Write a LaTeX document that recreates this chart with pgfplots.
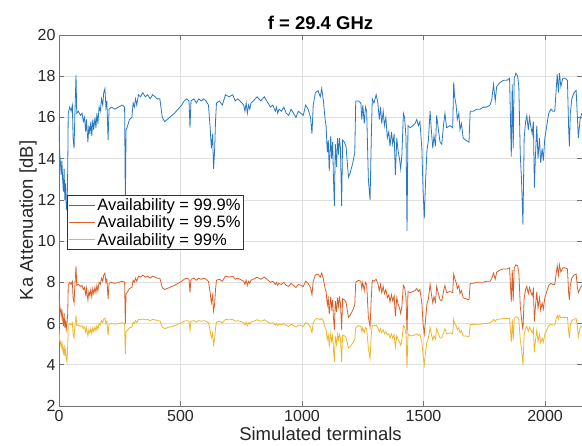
\documentclass[border=0pt]{standalone}
\usepackage{pgfplots}
\usepackage{pgfplotstable}
\pgfplotsset{compat=1.18}
\usepackage{fontspec}
\setmainfont{Liberation Sans}
\definecolor{mblue}{RGB}{40,120,195}
\definecolor{morange}{RGB}{217,95,40}
\definecolor{myellow}{RGB}{237,182,45}
\definecolor{axgray}{RGB}{38,38,38}

\pgfplotstableread{
x b o y
0 15.6 7.55 5.69
3 14.2 6.85 5.20
6 13.8 6.65 5.06
9 13.2 6.35 4.85
12 13.9 6.70 5.09
15 13.0 6.25 4.78
18 12.4 5.88 4.57
21 13.5 6.50 4.95
24 12.0 5.80 4.43
27 12.8 6.15 4.71
30 11.6 5.72 4.29
33 11.5 6.00 4.15
36 13.5 6.50 4.95
38 16.2 7.85 5.90
44 16.5 8.00 6.00
50 16.3 7.90 5.93
55 16.6 8.05 6.04
58 15.0 7.25 5.48
62 14.5 7.00 5.30
65 16.0 7.75 5.83
70 18.06 8.78 6.39
73 16.2 7.85 5.90
80 16.3 7.90 5.93
88 16.1 7.80 5.86
95 16.2 7.85 5.90
100 15.8 7.65 5.76
105 16.0 7.75 5.83
110 15.3 7.40 5.58
113 15.9 7.70 5.79
119 14.8 7.15 5.41
123 15.6 7.55 5.69
127 15.2 7.35 5.55
131 15.8 7.65 5.76
135 15.1 7.30 5.51
139 15.9 7.70 5.79
143 15.4 7.45 5.62
148 16.0 7.75 5.83
152 15.5 7.50 5.65
156 16.2 7.85 5.90
160 15.7 7.60 5.72
165 16.5 8.00 6.00
170 16.3 7.90 5.93
175 16.9 8.20 6.14
180 16.6 8.05 6.04
184 17.2 8.35 6.22
189 17.4 8.45 6.26
193 16.5 8.00 6.00
197 16.8 8.15 6.11
202 14.9 7.20 5.44
206 16.4 7.95 5.97
215 16.5 8.00 6.00
230 16.4 7.95 5.97
245 16.5 8.00 6.00
260 16.6 8.05 6.04
270 16.5 8.00 6.00
273 11.8 6.00 4.50
276 15.4 7.45 5.62
280 15.5 7.50 5.65
290 15.9 7.70 5.79
300 16.0 7.75 5.83
305 16.7 8.10 6.07
310 16.5 8.00 6.00
315 16.9 8.20 6.14
320 16.6 8.05 6.04
327 17.1 8.30 6.20
335 17.0 8.25 6.18
345 17.2 8.35 6.22
355 17.0 8.25 6.18
365 17.1 8.30 6.20
375 16.9 8.20 6.14
385 17.1 8.30 6.20
395 17.0 8.25 6.18
405 16.9 8.20 6.14
415 16.9 8.20 6.14
425 16.0 7.75 5.83
435 15.8 7.65 5.76
445 15.9 7.70 5.79
455 16.0 7.75 5.83
465 16.1 7.80 5.86
475 16.2 7.85 5.90
490 16.4 7.95 5.97
505 16.6 8.05 6.04
515 16.8 8.15 6.11
525 16.9 8.20 6.14
535 16.8 8.15 6.11
539 15.5 7.50 5.65
543 16.8 8.15 6.11
555 16.9 8.20 6.14
565 16.7 8.10 6.07
575 16.9 8.20 6.14
585 16.8 8.15 6.11
595 16.9 8.20 6.14
605 16.8 8.15 6.11
615 16.6 8.05 6.04
622 15.5 7.50 5.65
627 14.5 7.00 5.30
632 15.2 7.35 5.55
636 13.5 6.60 4.98
640 14.3 6.90 5.23
644 15.8 7.65 5.76
648 16.7 8.10 6.07
660 16.8 8.15 6.11
672 16.6 8.05 6.04
685 17.1 8.30 6.20
700 17.0 8.25 6.18
715 17.1 8.30 6.20
725 16.8 8.15 6.11
735 16.9 8.20 6.14
745 16.8 8.15 6.11
760 16.6 8.05 6.04
765 16.3 7.90 5.93
770 16.7 8.10 6.07
775 16.2 7.85 5.90
780 16.6 8.05 6.04
785 16.4 7.95 5.97
790 16.7 8.10 6.07
800 16.8 8.15 6.11
815 17.0 8.25 6.18
830 16.8 8.15 6.11
845 17.0 8.25 6.18
860 16.7 8.10 6.07
870 16.5 8.00 6.00
880 16.6 8.05 6.04
890 16.3 7.90 5.93
895 16.5 8.00 6.00
900 16.2 7.85 5.90
905 16.4 7.95 5.97
915 16.3 7.90 5.93
925 16.5 8.00 6.00
935 16.2 7.85 5.90
945 16.1 7.80 5.86
955 16.4 7.95 5.97
965 16.2 7.85 5.90
975 16.0 7.75 5.83
985 16.3 7.90 5.93
995 16.2 7.85 5.90
1005 16.1 7.80 5.86
1015 16.6 8.05 6.04
1025 16.4 7.95 5.97
1035 16.0 7.75 5.83
1041 15.2 7.40 5.55
1046 16.6 8.05 6.04
1055 17.2 8.35 6.22
1066 17.3 8.40 6.24
1075 17.0 8.25 6.18
1081 17.4 8.45 6.26
1088 16.8 8.15 6.11
1095 15.9 7.70 5.79
1099 15.6 7.55 5.69
1104 14.3 6.90 5.23
1108 14.9 7.20 5.44
1112 13.4 6.45 4.92
1118 15.1 7.30 5.51
1122 14.0 6.75 5.13
1126 14.8 7.15 5.41
1129 13.2 6.35 4.85
1133 11.7 5.70 4.15
1137 14.7 7.10 5.37
1142 13.6 6.55 4.99
1146 15.0 7.25 5.48
1150 14.2 6.85 5.20
1154 15.0 7.25 5.48
1158 14.5 7.00 5.30
1163 11.7 5.70 4.15
1167 14.9 7.20 5.44
1174 14.8 7.15 5.41
1181 14.6 7.05 5.34
1191 13.1 6.30 4.81
1198 13.3 6.40 4.88
1209 13.8 6.65 5.06
1217 14.3 6.90 5.23
1221 16.8 8.00 5.80
1232 16.8 8.10 5.90
1242 16.7 8.05 5.85
1246 15.9 7.70 5.60
1250 16.6 8.00 5.80
1256 15.7 7.60 5.55
1261 16.5 8.00 5.80
1266 16.3 7.90 5.75
1273 13.0 6.30 4.78
1280 12.0 5.85 4.30
1285 15.0 7.25 5.48
1289 16.9 8.10 5.90
1296 16.7 8.05 5.88
1305 17.1 8.15 5.92
1312 16.7 7.95 5.80
1318 15.9 7.60 5.60
1323 16.5 7.90 5.75
1328 15.7 7.50 5.55
1334 16.3 7.80 5.70
1339 15.6 7.45 5.50
1345 16.0 7.65 5.60
1351 15.0 7.25 5.45
1357 15.3 7.40 5.50
1362 14.6 7.05 5.30
1368 15.3 7.40 5.50
1373 14.7 7.10 5.30
1379 15.2 7.35 5.45
1384 13.2 6.35 4.85
1390 15.0 7.25 5.40
1395 14.4 6.95 5.25
1401 14.0 6.75 5.10
1406 13.5 6.50 4.95
1411 14.2 6.85 5.20
1417 16.2 7.85 5.90
1422 16.0 7.75 5.83
1428 15.0 7.25 5.48
1432 10.5 5.50 3.85
1436 15.6 7.55 5.50
1445 15.5 7.50 5.40
1456 15.6 7.55 5.42
1465 15.7 7.60 5.45
1472 15.9 7.70 5.50
1479 15.6 7.55 5.42
1485 15.8 7.65 5.48
1493 14.5 7.00 5.10
1498 12.5 6.00 4.50
1503 11.1 5.50 4.00
1508 12.8 6.15 4.60
1514 14.4 6.95 5.10
1520 14.9 7.20 5.30
1527 16.3 7.90 5.80
1532 15.4 7.45 5.50
1538 14.5 7.00 5.20
1543 15.1 7.30 5.40
1549 14.6 7.05 5.25
1554 16.1 7.80 5.75
1561 15.4 7.45 5.50
1568 14.8 7.15 5.30
1575 14.7 7.10 5.30
1582 15.6 7.55 5.55
1588 16.2 7.85 5.75
1595 15.5 7.50 5.50
1609 15.6 7.55 5.55
1620 15.5 7.50 5.50
1624 17.7 8.40 6.20
1628 17.0 8.20 6.00
1634 16.6 8.00 5.90
1639 15.9 7.70 5.70
1645 16.2 7.85 5.80
1650 15.4 7.45 5.55
1656 15.7 7.60 5.65
1663 15.0 7.25 5.40
1674 14.9 7.20 5.40
1687 14.8 7.15 5.35
1692 16.3 7.95 5.95
1705 16.3 7.95 5.95
1719 16.4 8.00 5.97
1733 16.4 8.00 5.97
1746 16.5 8.00 6.00
1760 16.5 8.05 6.00
1774 16.6 8.05 6.04
1781 16.9 8.20 6.10
1788 17.6 8.45 6.20
1795 16.8 8.15 6.10
1801 17.5 8.50 6.20
1815 17.7 8.60 6.22
1829 17.8 8.65 6.24
1843 17.8 8.65 6.24
1854 17.9 8.70 6.25
1861 14.1 7.05 5.10
1865 17.6 8.60 6.20
1869 14.5 7.10 5.20
1873 17.9 8.70 6.25
1880 18.15 8.85 6.33
1887 18.0 8.80 6.30
1892 17.5 8.50 6.20
1898 14.2 6.85 5.20
1903 13.0 6.25 4.78
1909 10.8 5.70 4.00
1914 15.0 7.25 5.48
1920 15.8 7.65 5.76
1925 16.1 7.80 5.86
1931 15.4 7.45 5.62
1936 16.0 7.75 5.83
1941 15.6 7.55 5.69
1947 15.2 7.35 5.55
1952 15.8 7.65 5.76
1956 12.6 6.10 4.60
1960 14.0 6.75 5.13
1966 15.6 7.55 5.69
1971 14.0 6.75 5.13
1977 15.0 7.25 5.48
1982 13.8 6.65 5.06
1988 14.5 7.00 5.30
1993 13.9 6.70 5.09
1999 15.0 7.25 5.48
2007 15.6 7.55 5.69
2015 16.2 7.85 5.90
2024 16.4 7.95 5.97
2032 16.3 7.90 5.93
2040 16.3 7.90 5.93
2046 17.4 8.45 6.26
2050 18.1 8.80 6.40
2055 17.2 8.35 6.22
2059 18.15 8.85 6.40
2065 17.5 8.50 6.28
2073 17.9 8.70 6.30
2082 17.9 8.70 6.30
2092 17.8 8.65 6.30
2097 15.5 7.50 5.65
2100 14.6 7.15 5.30
2104 16.2 7.85 5.90
2110 16.9 8.20 6.14
2119 17.2 8.35 6.22
2128 17.3 8.40 6.24
2133 16.0 7.75 5.83
2137 15.0 7.50 5.36
2144 15.9 7.70 5.79
2151 16.2 7.85 5.90
}\datatable

\begin{document}
\begin{tikzpicture}
\begin{axis}[
  scale only axis,
  width=523pt, height=371pt,
  xmin=0, xmax=2152, ymin=2, ymax=20,
  xtick={0,500,1000,1500,2000},
  ytick={2,4,...,20},
  grid=major,
  major grid style={color=black!12, line width=0.6pt},
  axis line style={color=black!55, line width=0.8pt},
  tick style={color=black!55, line width=0.6pt},
  tick align=inside, tick pos=both, major tick length=5pt,
  /pgf/number format/assume math mode=true,
  /pgf/number format/1000 sep={},
  tick label style={font=\fontsize{16}{19}\selectfont, text=axgray},
  xticklabel style={yshift=-1pt},
  title={\bfseries f = 29.4 GHz},
  title style={font=\fontsize{18.5}{22}\selectfont, text=black, yshift=-4pt},
  xlabel={Simulated terminals},
  ylabel={Ka Attenuation [dB]},
  label style={font=\fontsize{18.5}{22}\selectfont, text=axgray},
  xlabel style={yshift=2pt},
  ylabel style={yshift=-6pt},
  legend style={at={(rel axis cs:0.0153,0.5687)}, anchor=north west,
    draw=black!80, fill=white, line width=0.6pt,
    font=\fontsize{16.5}{17}\selectfont, inner sep=1.5pt, row sep=1pt,
    nodes={inner sep=1.5pt}},
  legend cell align=left,
  legend image code/.code={\draw[#1, line width=1pt] (0pt,0pt) -- (26pt,0pt);},
]
\addplot[color=mblue, line width=0.8pt] table[x=x, y=b] {\datatable};
\addplot[color=morange, line width=0.8pt] table[x=x, y=o] {\datatable};
\addplot[color=myellow, line width=0.8pt] table[x=x, y=y] {\datatable};
\legend{Availability = 99.9\%, Availability = 99.5\%, Availability = 99\%}
\coordinate (bbl) at (rel axis cs:-0.1128,-0.1078);
\coordinate (btr) at (rel axis cs:1.0,1.0943);
\end{axis}
\pgfresetboundingbox
\path[use as bounding box] (bbl) rectangle (btr);
\end{tikzpicture}
\end{document}
